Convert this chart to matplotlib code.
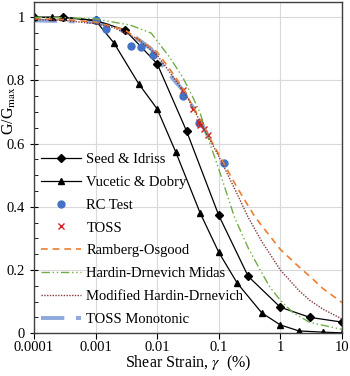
import numpy as np
from matplotlib import pyplot as plt
from matplotlib.ticker import FixedLocator, MultipleLocator, FixedFormatter

plt.rcParams['font.family'] = ['Liberation Serif', 'DejaVu Serif']
plt.rcParams['mathtext.fontset'] = 'stix'

# Seed & Idriss
seed_x = [0.0001, 0.0003, 0.001, 0.003, 0.01, 0.03, 0.1, 0.3, 1, 3, 10]
seed_y = [1.0, 1.0, 0.99, 0.96, 0.853, 0.64, 0.373, 0.18, 0.082, 0.05, 0.035]

# Vucetic & Dobry
vd_x = [0.0001, 0.0002, 0.0003, 0.001, 0.002, 0.005, 0.01, 0.02, 0.05, 0.1, 0.2, 0.5, 1, 2, 5, 10]
vd_y = [1.0, 1.0, 1.0, 0.99, 0.918, 0.79, 0.71, 0.574, 0.38, 0.256, 0.158, 0.064, 0.026, 0.007, 0.003, 0.001]

# RC Test
rc_x = [0.001, 0.0015, 0.0037, 0.0055, 0.0085, 0.026, 0.047, 0.12]
rc_y = [0.99, 0.962, 0.91, 0.905, 0.88, 0.75, 0.665, 0.54]

# TOSS
toss_x = [0.026, 0.038, 0.047, 0.05, 0.058, 0.067]
toss_y = [0.77, 0.71, 0.67, 0.66, 0.645, 0.627]

# Ramberg-Osgood
ro_x = [0.0001, 0.0003, 0.001, 0.003, 0.01, 0.02, 0.03, 0.05, 0.08, 0.12, 0.2, 0.39, 1, 2, 3, 5, 10]
ro_y = [0.995, 0.993, 0.985, 0.96, 0.89, 0.81, 0.755, 0.675, 0.6, 0.538, 0.46, 0.367, 0.265, 0.21, 0.18, 0.14, 0.097]

# Hardin-Drnevich Midas
hd_x = [0.0001, 0.0003, 0.001, 0.0037, 0.008, 0.016, 0.026, 0.038, 0.05, 0.072, 0.1, 0.18, 0.3, 0.47, 0.68, 1, 1.6, 3, 10]
hd_y = [1.0, 0.999, 0.995, 0.975, 0.95, 0.873, 0.81, 0.747, 0.696, 0.6, 0.52, 0.367, 0.27, 0.2, 0.145, 0.104, 0.065, 0.034, 0.012]

# Modified Hardin-Drnevich
mhd_x = [0.0001, 0.0003, 0.001, 0.002, 0.005, 0.01, 0.02, 0.03, 0.05, 0.1, 0.2, 0.3, 0.5, 1, 2, 3, 5, 10]
mhd_y = [0.993, 0.99, 0.98, 0.967, 0.93, 0.88, 0.8, 0.75, 0.67, 0.56, 0.44, 0.367, 0.29, 0.2, 0.135, 0.104, 0.075, 0.045]

# TOSS Monotonic
tm_x = [0.0001, 0.0003, 0.001, 0.002, 0.0042, 0.008, 0.012, 0.019, 0.026, 0.038, 0.05, 0.067]
tm_y = [0.99, 0.988, 0.985, 0.97, 0.94, 0.9, 0.85, 0.8, 0.77, 0.715, 0.67, 0.625]

xticks = [0.0001, 0.001, 0.01, 0.1, 1, 10]
xtick_labels = ['0.0001', '0.001', '0.01', '0.1', '1', '10']

fig = plt.figure(figsize=(3.5, 3.76), dpi=100)
ax = fig.add_axes([0.097, 0.114, 0.88, 0.882])

ax.plot(seed_x, seed_y, color='black', lw=0.9, marker='D', ms=3.8, label='Seed & Idriss')
ax.plot(vd_x, vd_y, color='black', lw=0.9, marker='^', ms=4.8, label='Vucetic & Dobry')
ax.plot(rc_x, rc_y, ls='none', marker='o', ms=5, color='#4472C4', label='RC Test')
ax.plot(toss_x, toss_y, ls='none', marker='x', ms=4, mew=1, color='#D62020', label='TOSS')
ax.plot(ro_x, ro_y, color='#ED7D31', lw=1.2, ls=(0, (4, 3)), label='Ramberg-Osgood')
ax.plot(hd_x, hd_y, color='#70AD47', lw=1.0, ls=(0, (6, 2, 1, 2, 1, 2)), label='Hardin-Drnevich Midas')
ax.plot(mhd_x, mhd_y, color='#843C3C', lw=1.0, ls=(0, (1, 1)), label='Modified Hardin-Drnevich')
ax.plot(tm_x, tm_y, color='#8EA9DB', lw=2.8, ls=(0, (6, 3, 1.5, 3)), label='TOSS Monotonic', zorder=1.5)

ax.set_xscale('log')
ax.set_xlim(0.0001, 10)
ax.set_ylim(0, 1.05)
ax.xaxis.set_major_locator(FixedLocator(xticks))
ax.xaxis.set_major_formatter(FixedFormatter(xtick_labels))
ax.xaxis.set_minor_locator(FixedLocator([]))
ax.yaxis.set_major_locator(FixedLocator([0, 0.2, 0.4, 0.6, 0.8, 1]))
ax.yaxis.set_major_formatter(FixedFormatter(['0', '0.2', '0.4', '0.6', '0.8', '1']))
ax.yaxis.set_minor_locator(MultipleLocator(0.05))
ax.tick_params(axis='both', labelsize=10.5, colors='black')
ax.tick_params(axis='x', direction='out', length=4, pad=2)
ax.tick_params(axis='y', which='major', direction='inout', length=6)
ax.tick_params(axis='y', which='minor', direction='in', length=3)
ax.grid(True, which='major', color='#D9D9D9', lw=0.8)
ax.set_axisbelow(True)
for s in ax.spines.values():
    s.set_color('#404040')
    s.set_linewidth(1.0)

ax.set_xlabel(r'Shear Strain, $\gamma$  (%)', fontsize=11.5)
ax.xaxis.set_label_coords(0.5, -0.062)
ax.set_ylabel(r'G/G$_{\mathrm{max}}$', fontsize=11.5)
ax.yaxis.set_label_coords(-0.052, 0.67)

ax.legend(loc='lower left', frameon=False, fontsize=10.5, handlelength=2.7,
          labelspacing=0.66, borderaxespad=0.1, handletextpad=0.4,
          bbox_to_anchor=(0.0, 0.0))

fig.savefig('out.png', dpi=100)
